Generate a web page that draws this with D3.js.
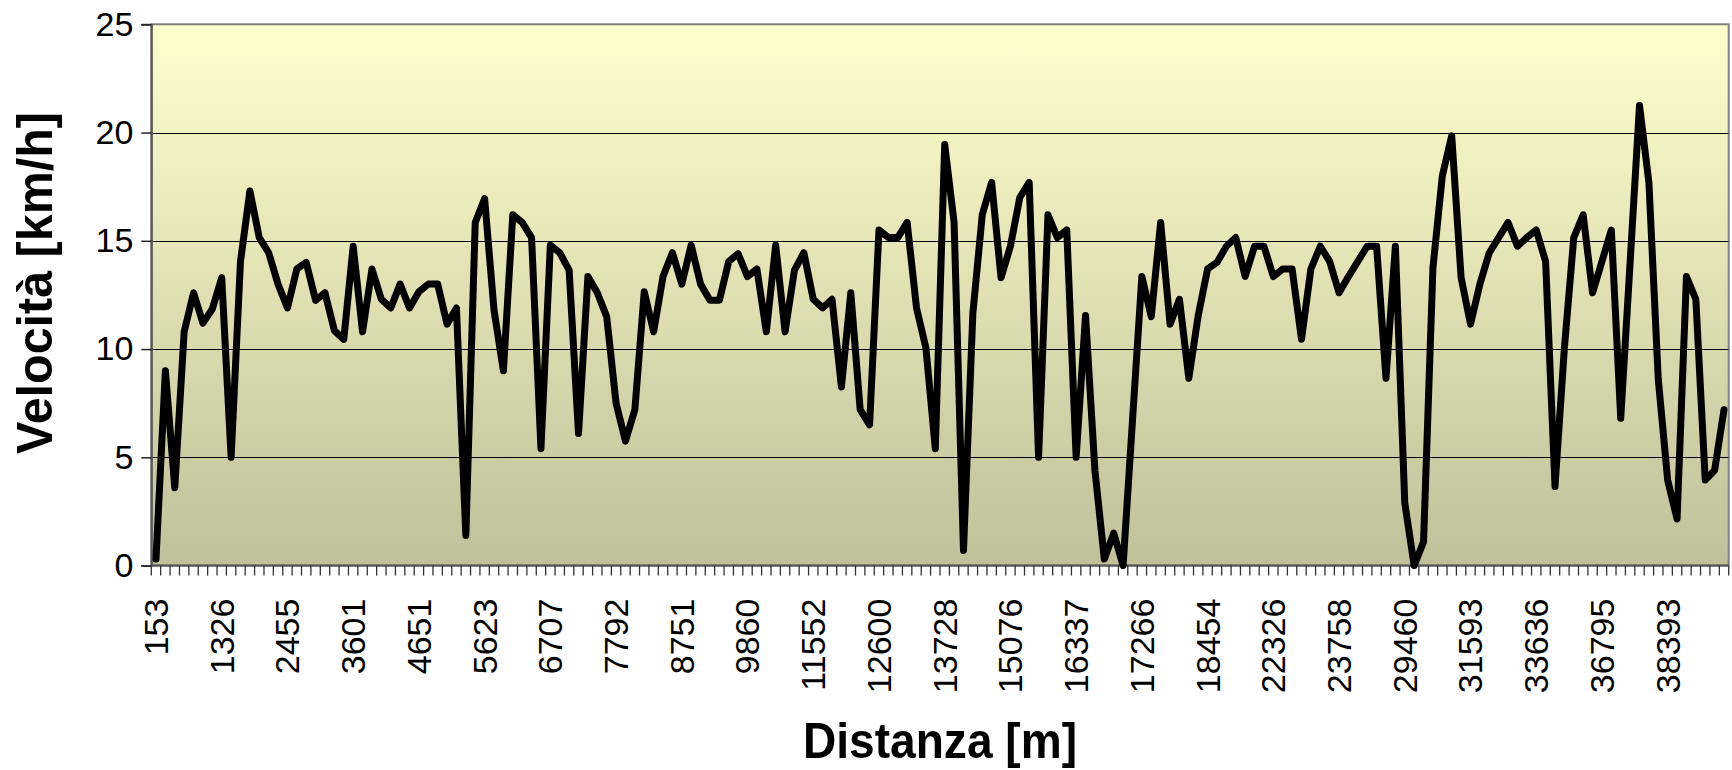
<!DOCTYPE html>
<html>
<head>
<meta charset="utf-8">
<script src="https://cdn.jsdelivr.net/npm/d3@7"></script>
<style>
html,body{margin:0;padding:0;background:#fff;}
svg{display:block;}
text{font-family:"Liberation Sans",Arial,sans-serif;}
</style>
</head>
<body>
<svg id="chart" width="1732" height="770"></svg>
<script>
// Speed values (km/h), one per distance sample
const speed = [
  0.3, 9.0, 3.6, 10.8, 12.6, 11.2, 11.85, 13.3, 5.0, 14.05,
  17.3, 15.15, 14.45, 13.0, 11.9, 13.7, 14.0, 12.25, 12.6, 10.85,
  10.45, 14.75, 10.8, 13.7, 12.3, 11.9, 13.0, 11.9, 12.65, 13.0,
  13.0, 11.15, 11.9, 1.4, 15.85, 16.95, 11.8, 9.0, 16.2, 15.85,
  15.15, 5.4, 14.8, 14.45, 13.65, 6.1, 13.35, 12.6, 11.5, 7.5,
  5.75, 7.2, 12.65, 10.8, 13.35, 14.45, 13.0, 14.8, 13.0, 12.25,
  12.25, 14.05, 14.4, 13.35, 13.7, 10.8, 14.8, 10.8, 13.65, 14.45,
  12.3, 11.9, 12.3, 8.25, 12.6, 7.2, 6.5, 15.5, 15.15, 15.15,
  15.85, 11.9, 10.05, 5.4, 19.45, 15.85, 0.7, 11.65, 16.2, 17.7,
  13.3, 14.75, 17.0, 17.7, 5.0, 16.2, 15.15, 15.5, 5.0, 11.55,
  4.4, 0.3, 1.5, 0.0, 6.7, 13.35, 11.5, 15.85, 11.15, 12.3,
  8.65, 11.55, 13.7, 14.0, 14.75, 15.15, 13.35, 14.75, 14.75, 13.35,
  13.7, 13.7, 10.45, 13.7, 14.75, 14.05, 12.6, 13.35, 14.05, 14.75,
  14.75, 8.65, 14.75, 2.9, 0.0, 1.1, 13.75, 18.0, 19.85, 13.3,
  11.15, 13.0, 14.45, 15.15, 15.85, 14.75, 15.15, 15.5, 14.05, 3.65,
  10.05, 15.15, 16.2, 12.6, 14.05, 15.5, 6.8, 14.0, 21.25, 17.7,
  8.6, 3.95, 2.15, 13.35, 12.3, 3.95, 4.4, 7.2
];
// Distance labels shown on the x axis (every 7th sample)
const tickLabels = [
  "153", "1326", "2455", "3601", "4651", "5623", "6707", "7792",
  "8751", "9860", "11552", "12600", "13728", "15076", "16337", "17266",
  "18454", "22326", "23758", "29460", "31593", "33636", "36795", "38393"
];
const labelEvery = 7;
const yTicks = [0, 5, 10, 15, 20, 25];

const svg = d3.select("#chart");
const L = 151.3, R = 1728.7, T = 24.3, B = 565.6;

const x = d3.scaleBand().domain(d3.range(speed.length)).range([L, R]).paddingInner(0).paddingOuter(0);
const y = d3.scaleLinear().domain([0, 25]).range([B, T]);

const defs = svg.append("defs");
const grad = defs.append("linearGradient").attr("id", "bg").attr("x1", 0).attr("y1", 0).attr("x2", 0).attr("y2", 1);
grad.append("stop").attr("offset", "0%").attr("stop-color", "#FFFFCC");
grad.append("stop").attr("offset", "100%").attr("stop-color", "#C0C09A");

svg.append("rect").attr("x", L).attr("y", T).attr("width", R - L).attr("height", B - T)
  .attr("fill", "url(#bg)").attr("stroke", "#808080").attr("stroke-width", 2);

// gridlines
svg.append("g").selectAll("line").data(yTicks.filter(d => d > 0 && d < 25)).join("line")
  .attr("x1", L).attr("x2", R).attr("y1", d => Math.round(y(d)) + 0.5).attr("y2", d => Math.round(y(d)) + 0.5)
  .attr("stroke", "#000").attr("stroke-width", 1.2);

// y axis
const yAxis = d3.axisLeft(y).tickValues(yTicks).tickSize(10).tickPadding(8).tickFormat(d3.format("d"));
const gy = svg.append("g").attr("transform", `translate(${L},0)`).call(yAxis);
gy.select(".domain").attr("stroke", "#555").attr("stroke-width", 2);
gy.selectAll(".tick line").attr("stroke", "#222").attr("stroke-width", 1.5);
gy.selectAll(".tick text").attr("font-size", 34).attr("fill", "#000")
  .attr("font-family", "'Liberation Sans', Arial, sans-serif");

// x axis: ticks at category boundaries
const bw = x.bandwidth();
const xb = svg.append("g");
xb.append("line").attr("x1", L).attr("x2", R).attr("y1", B).attr("y2", B).attr("stroke", "#555").attr("stroke-width", 2);
xb.selectAll("line.tk").data(d3.range(speed.length + 1)).join("line").attr("class", "tk")
  .attr("x1", i => (i < speed.length ? x(i) : R)).attr("x2", i => (i < speed.length ? x(i) : R))
  .attr("y1", B).attr("y2", B + 10).attr("stroke", "#333").attr("stroke-width", 1.3);
xb.selectAll("text").data(tickLabels).join("text")
  .attr("transform", (d, k) => `translate(${x(k * labelEvery) + bw / 2},${B + 33}) rotate(-90)`)
  .attr("text-anchor", "end").attr("dy", "0.35em").attr("font-size", 34).attr("fill", "#000")
  .text(d => d);

// line
const line = d3.line().x((d, i) => x(i) + bw / 2).y(d => y(d));
svg.append("path").datum(speed).attr("d", line).attr("fill", "none")
  .attr("stroke", "#000").attr("stroke-width", 7).attr("stroke-linejoin", "round").attr("stroke-linecap", "round");

// titles
svg.append("text").attr("x", 940).attr("y", 758).attr("text-anchor", "middle")
  .attr("font-size", 50).attr("font-weight", "bold").attr("textLength", 274).attr("lengthAdjust", "spacingAndGlyphs")
  .text("Distanza [m]");
svg.append("text").attr("transform", "translate(52,283) rotate(-90)").attr("text-anchor", "middle")
  .attr("font-size", 50).attr("font-weight", "bold").attr("textLength", 342).attr("lengthAdjust", "spacingAndGlyphs")
  .text("Velocità [km/h]");
</script>
</body>
</html>
